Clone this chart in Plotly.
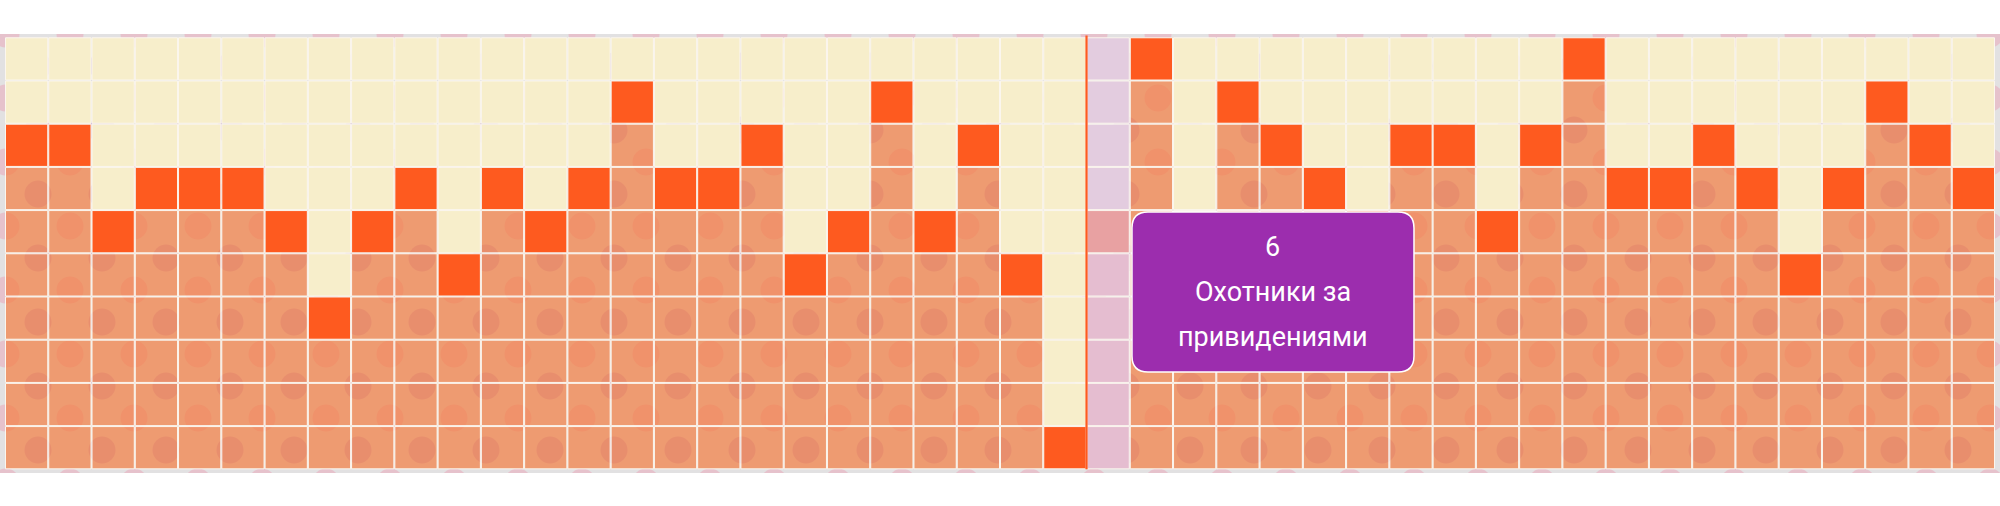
import plotly.graph_objects as go

# ---------------- data ----------------
ratings = [8, 8, 6, 7, 7, 7, 6, 4, 6, 7, 5, 7, 6, 7, 9, 7, 7, 8, 5, 6, 9, 6, 8, 5, 1,
           6, 10, 5, 9, 8, 7, 6, 8, 8, 6, 8, 10, 7, 7, 8, 7, 5, 7, 9, 8, 7]
titles = [f"Фильм {i + 1}" for i in range(len(ratings))]
titles[25] = "Охотники за привидениями"
levels = list(range(1, 11))
hovered = 25

# ---------------- style ----------------
W, H = 2000, 506
M_T, M_B = 34, 33
PLOT_H = H - M_T - M_B
N = len(ratings)
GRID_L, GRID_R = 5.0, 1995.0
GRID_T, GRID_B = 37.3 - M_T, 469.3 - M_T
ppx = (GRID_R - GRID_L) / N
ppy = (GRID_B - GRID_T) / len(levels)
x_min = -0.5 - GRID_L / ppx
x_max = N - 0.5 + (W - GRID_R) / ppx
y_max = len(levels) + 0.5 + GRID_T / ppy
y_min = 0.5 - (PLOT_H - GRID_B) / ppy

CREAM = "#F7EECB"
DARK = "#FE5A1F"
SALMON = "rgba(244,125,65,0.70)"
H_ABOVE = "#E3CCDF"
H_VALUE = "#E8A1A2"
H_BELOW = "#E5BDD0"
GAP = "#FBF6EE"
BG = "#E2E1E2"
DOT_A = "rgb(205,182,212)"
DOT_B = "rgb(230,194,204)"
PURPLE = "#9C2DAE"


def px_to_x(p):
    return x_min + p / ppx


def py_to_y(p):
    return y_max - p / ppy


fig = go.Figure()

# background polka-dot texture (decorative)
for color, ox, oy in [(DOT_A, 38, 32), (DOT_B, 6, 0)]:
    xs, ys = [], []
    py = oy
    while py < PLOT_H + 20:
        p = ox - 64
        while p < W + 20:
            xs.append(px_to_x(p))
            ys.append(py_to_y(py))
            p += 64
        py += 64
    fig.add_trace(go.Scatter(x=xs, y=ys, mode="markers", hoverinfo="skip",
                             marker=dict(size=27, color=color, line=dict(width=0)),
                             showlegend=False))

# cells
cx, cy, cc = [], [], []
for i, v in enumerate(ratings):
    for lv in levels:
        cx.append(i)
        cy.append(lv)
        if i == hovered:
            cc.append(H_VALUE if lv == v else (H_BELOW if lv < v else H_ABOVE))
        else:
            cc.append(DARK if lv == v else (SALMON if lv < v else CREAM))
fig.add_trace(go.Scatter(x=cx, y=cy, mode="markers", hoverinfo="skip", showlegend=False,
                         marker=dict(symbol="square", size=ppx - 1.0, color=cc,
                                     line=dict(color=GAP, width=1))))

# hover marker line at left edge of hovered column
fig.add_shape(type="line", xref="x", yref="y", x0=hovered - 0.5, x1=hovered - 0.5,
              y0=y_min + 3.7 / ppy, y1=y_max - 1.5 / ppy,
              line=dict(color=DARK, width=2.2), layer="above")

# tooltip box
v = ratings[hovered]
tx0 = hovered + 0.5 + 2.2 / ppx
tx1 = tx0 + 282 / ppx
ty1 = v + 0.5 - 2.0 / ppy
ty0 = ty1 - 160 / ppy
rx, ry = 16 / ppx, 16 / ppy
path = (f"M {tx0 + rx},{ty1} L {tx1 - rx},{ty1} Q {tx1},{ty1} {tx1},{ty1 - ry} "
        f"L {tx1},{ty0 + ry} Q {tx1},{ty0} {tx1 - rx},{ty0} L {tx0 + rx},{ty0} "
        f"Q {tx0},{ty0} {tx0},{ty0 + ry} L {tx0},{ty1 - ry} Q {tx0},{ty1} {tx0 + rx},{ty1} Z")
fig.add_shape(type="path", xref="x", yref="y", path=path, fillcolor=PURPLE,
              line=dict(color="#FFFFFF", width=1.5), layer="above")

words = titles[hovered].split(" ")
lines = [str(v), " ".join(words[:2]), " ".join(words[2:])]
tfont = dict(family="Roboto, sans-serif", size=27, color="#FFFFFF")
for k, t in enumerate(lines):
    fig.add_annotation(x=(tx0 + tx1) / 2, y=ty1 - (35 + 45 * k) / ppy, xref="x", yref="y",
                       text=t, showarrow=False, font=tfont, xanchor="center", yanchor="middle")

fig.update_layout(
    width=W, height=H,
    margin=dict(l=0, r=0, t=M_T, b=M_B, pad=0),
    paper_bgcolor="#FFFFFF", plot_bgcolor=BG,
    xaxis=dict(range=[x_min, x_max], visible=False, fixedrange=True),
    yaxis=dict(range=[y_min, y_max], visible=False, fixedrange=True),
    showlegend=False,
)

fig.write_html("out.html", config={"displayModeBar": False},
               post_script="document.body.style.margin='0px';document.body.style.overflow='hidden';")
